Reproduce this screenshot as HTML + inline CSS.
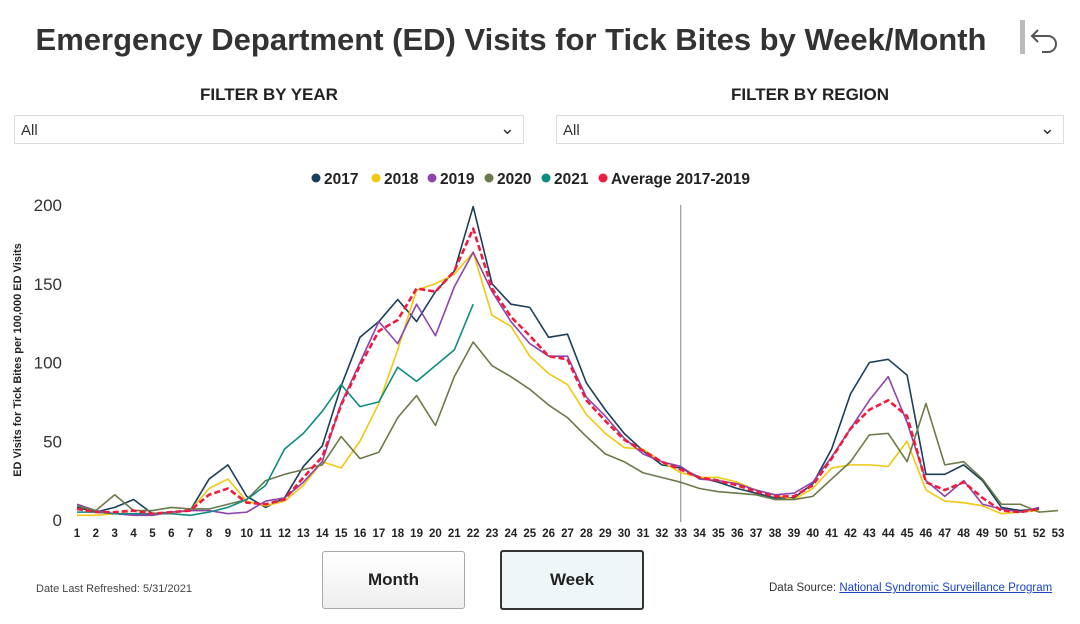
<!DOCTYPE html>
<html><head><meta charset="utf-8"><style>
body{margin:0;width:1080px;height:624px;background:#fff;font-family:"Liberation Sans",sans-serif;position:relative;overflow:hidden}
.abs{position:absolute}
.title{left:0;width:1022px;text-align:center;top:22px;font-size:31px;font-weight:bold;color:#333}
.flabel{font-size:17px;font-weight:bold;color:#222;text-align:center}
.sel{border:1px solid #ddd;height:29px;font-size:15px;color:#333;box-sizing:border-box;padding:6px 6px}
.btn{border:1px solid #aaa;border-radius:3px;font-size:17px;font-weight:bold;text-align:center;line-height:56px;color:#222}
</style></head><body>
<div class="abs title">Emergency Department (ED) Visits for Tick Bites by Week/Month</div>
<svg class="abs" style="left:1018px;top:18px" width="44" height="40"><rect x="2" y="2" width="5" height="34" fill="#bbb"/><path d="M20 12 L14 18 L20 24 M14 18 H30 A8 8 0 0 1 30 34 H24" fill="none" stroke="#555" stroke-width="2"/></svg>
<div class="abs flabel" style="left:14px;width:510px;top:85px">FILTER BY YEAR</div>
<div class="abs flabel" style="left:556px;width:508px;top:85px">FILTER BY REGION</div>
<div class="abs sel" style="left:14px;top:115px;width:510px">All<span style="position:absolute;right:8px;top:2px;font-size:18px">&#8964;</span></div>
<div class="abs sel" style="left:556px;top:115px;width:508px">All<span style="position:absolute;right:8px;top:2px;font-size:18px">&#8964;</span></div>
<svg id="chart" class="abs" style="left:0;top:0" width="1080" height="545"></svg>
<div class="abs btn" style="left:322px;top:551px;width:141px;height:56px;background:linear-gradient(#fff,#eee)">Month</div>
<div class="abs btn" style="left:500px;top:550px;width:140px;height:56px;border:2px solid #333;background:#eef6f8">Week</div>
<div class="abs" style="left:36px;top:583px;font-size:11px;color:#444">Date Last Refreshed: 5/31/2021</div>
<div class="abs" style="left:769px;top:582px;font-size:11.5px;color:#333">Data Source: <span style="color:#1a44c8;text-decoration:underline">National Syndromic Surveillance Program</span></div>
<script>
const weeks=Array.from({length:53},(_,i)=>i+1);
const yTicks=[0,50,100,150,200];
const s2017=[8,5,8,13,4,5,6,26,35,15,8,14,34,47,85,116,126,140,126,145,158,199,150,137,135,116,118,87,70,55,44,35,33,27,24,20,17,14,14,23,45,80,100,102,92,29,29,35,25,8,6,7];
const s2018=[3,3,4,4,3,5,6,20,26,12,9,12,22,37,33,50,74,108,146,150,156,170,130,123,104,93,86,67,55,46,45,37,30,27,27,24,19,16,13,20,33,35,35,34,50,19,12,11,9,4,5,6];
const s2019=[10,6,4,3,3,5,6,6,4,5,12,14,24,37,74,100,126,112,137,117,148,170,145,126,112,104,104,78,66,52,42,37,34,26,25,23,19,16,17,24,40,58,76,91,62,25,15,25,10,7,5,8];
const s2020=[9,6,16,6,6,8,7,7,10,13,25,29,32,35,53,39,43,65,79,60,91,113,98,91,83,73,65,53,42,37,30,27,24,20,18,17,16,13,13,15,26,37,54,55,37,74,35,37,26,10,10,5,6];
const s2021=[5,5,4,4,4,4,3,5,8,13,22,45,55,69,86,72,75,97,88,98,108,137];
const sAvg=[7,5,5,6,4,5,6,16,20,11,10,13,27,40,73,98,120,127,147,145,158,185,147,129,117,104,102,76,63,51,44,37,32,27,25,22,18,15,15,22,39,58,70,76,66,24,19,24,14,6,5,7];
const seriesNames=["2017","2018","2019","2020","2021","Average 2017-2019"];
const seriesData=[s2017,s2018,s2019,s2020,s2021,sAvg];
const colors=["#1b3f5a","#f2c811","#8e44ad","#6b7a4a","#0f8c82","#ee1c3f"];
const NS="http://www.w3.org/2000/svg",svg=document.getElementById('chart');
const x=w=>77+(w-1)*(1058-77)/52, y=v=>520-v*1.575;
function mk(t,a,p){const e=document.createElementNS(NS,t);for(const k in a)e.setAttribute(k,a[k]);(p||svg).appendChild(e);return e;}
yTicks.forEach(t=>{const e=mk('text',{x:62,y:y(t)+6,'text-anchor':'end','font-size':17,fill:'#333'});e.textContent=t;

});
weeks.forEach(w=>{const e=mk('text',{x:x(w),y:537,'text-anchor':'middle','font-size':11.5,'font-weight':'bold',fill:'#222'});e.textContent=w;

});
const yt=mk('text',{transform:'translate(21,360) rotate(-90)','text-anchor':'middle','font-size':11,'font-weight':'bold',fill:'#222'});yt.textContent='ED Visits for Tick Bites per 100,000 ED Visits';


const vl=mk('line',{x1:x(33),x2:x(33),y1:205,y2:522,stroke:'#999','stroke-width':1.2});


seriesData.forEach((d,i)=>{const pts=d.map((v,j)=>x(j+1)+','+y(v)).join(' ');
const a={points:pts,fill:'none',stroke:colors[i],'stroke-width':i==5?2.6:1.6,'stroke-linejoin':'round'};if(i==5)a['stroke-dasharray']='6,3';
const p=mk('polyline',a);

});
const legX=[316,376,432,489,546,603];
seriesNames.forEach((n,i)=>{const c=mk('circle',{cx:legX[i],cy:178,r:4.5,fill:colors[i]});


const t=mk('text',{x:legX[i]+8,y:184,'font-size':15.5,'font-weight':'bold',fill:'#222'});t.textContent=n;

});
</script>
</body></html>
